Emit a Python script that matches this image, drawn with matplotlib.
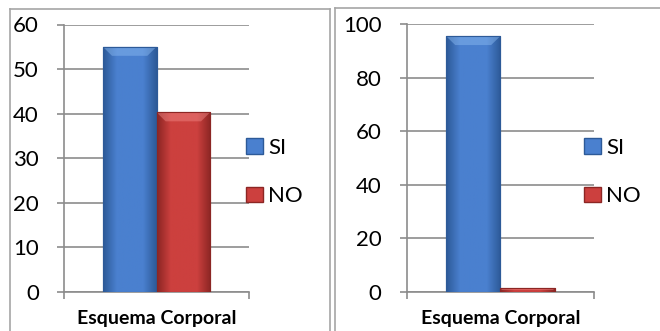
import numpy as np
import matplotlib.pyplot as plt
from matplotlib.patches import Rectangle, Polygon
from matplotlib.lines import Line2D
from matplotlib.colors import LinearSegmentedColormap

# datos de las dos gráficas
categoria = 'Esquema Corporal'
series = ['SI', 'NO']
valores_izq = [55, 40.3]
valores_der = [95.6, 1.2]
limite_izq, paso_izq = 60, 10
limite_der, paso_der = 100, 20

# colores: oscuro, medio, claro
azul = ('#2d5a98', '#4a80cf', '#8dbcf2')
rojo = ('#8c2624', '#cc403e', '#f28a88')
gris = '#8c8c8c'

plt.rcParams['font.family'] = ['Lato', 'DejaVu Sans']

W, H = 660, 331
fig = plt.figure(figsize=(W / 100, H / 100), dpi=100)


def ejes_px(x0, y0, x1, y1):
    # crea unos ejes a partir de coordenadas en píxeles (origen arriba a la izquierda)
    return fig.add_axes([x0 / W, 1 - y1 / H, (x1 - x0) / W, (y1 - y0) / H])


def barra(ax, x, valor, ancho, colores, alto_px, limite):
    oscuro, medio, claro = colores
    b = ax.bar(x, valor, ancho, color=medio, edgecolor=oscuro, linewidth=0.8, zorder=3)[0]
    cmap = LinearSegmentedColormap.from_list('g', [oscuro, medio, medio, medio, oscuro])
    grad = np.linspace(0, 1, 64).reshape(1, -1)
    im = ax.imshow(grad, cmap=cmap, extent=[x - ancho / 2, x + ancho / 2, 0, valor],
                   aspect='auto', zorder=3)
    im.set_clip_path(b)
    # bisel superior
    ppy = limite / alto_px
    dy = min(9 * ppy, valor / 2)
    dx = ancho * 0.17 * (dy / (9 * ppy))
    x0, x1 = x - ancho / 2, x + ancho / 2
    ax.add_patch(Polygon([(x0, valor), (x1, valor), (x1 - dx, valor - dy), (x0 + dx, valor - dy)],
                         closed=True, facecolor=claro, edgecolor='none', alpha=0.45, zorder=4))
    ax.add_patch(Rectangle((x0, 0), ancho, valor, facecolor='none', edgecolor=oscuro,
                           linewidth=0.8, zorder=5))


def grafica(ax, valores, limite, paso, alto_px):
    ancho = 0.29
    barra(ax, -ancho / 2, valores[0], ancho, azul, alto_px, limite)
    barra(ax, ancho / 2, valores[1], ancho, rojo, alto_px, limite)
    ax.set_xlim(-0.5, 0.5)
    ax.set_ylim(0, limite)
    ax.set_yticks(np.arange(0, limite + 1, paso))
    ax.yaxis.grid(True, color=gris, linewidth=1.2)
    ax.set_axisbelow(True)
    for lado in ['top', 'right']:
        ax.spines[lado].set_visible(False)
    for lado in ['left', 'bottom']:
        ax.spines[lado].set_color(gris)
        ax.spines[lado].set_linewidth(1.2)
    ax.tick_params(axis='y', direction='out', length=5, width=1.2, color=gris,
                   labelsize=16, pad=13)
    ax.set_xticks([0])
    ax.set_xticklabels([categoria], fontsize=14, fontweight='bold')
    ax.tick_params(axis='x', which='major', length=0, pad=13)
    ax.set_xticks([-0.5, 0.5], minor=True)
    ax.tick_params(axis='x', which='minor', direction='out', length=5, width=1.2, color=gris)


ax1 = ejes_px(64, 24.5, 249, 292)
grafica(ax1, valores_izq, limite_izq, paso_izq, 267.5)

ax2 = ejes_px(406.7, 24.3, 594, 291.6)
grafica(ax2, valores_der, limite_der, paso_der, 267.3)

# leyendas
for xl in [246, 584]:
    manejadores = [Rectangle((0, 0), 1, 1, facecolor=azul[1], edgecolor=azul[0]),
                   Rectangle((0, 0), 1, 1, facecolor=rojo[1], edgecolor=rojo[0])]
    fig.legend(manejadores, series, loc='center left', bbox_to_anchor=(xl / W, 1 - 172 / H),
               frameon=False, borderpad=0, borderaxespad=0, handlelength=0.75,
               handleheight=0.7, handletextpad=0.25, labelspacing=1.3, fontsize=16)

# marcos de cada gráfica
borde = '#a6a6a6'
for xs, ys in [([10, 10], [331, 9]), ([10, 330], [9, 9]), ([330, 330], [9, 331]),
               ([335, 335], [331, 8]), ([335, 660], [8, 8])]:
    fig.add_artist(Line2D([x / W for x in xs], [1 - y / H for y in ys],
                          transform=fig.transFigure, color=borde, linewidth=1.2))

fig.savefig('out.png', dpi=100)
